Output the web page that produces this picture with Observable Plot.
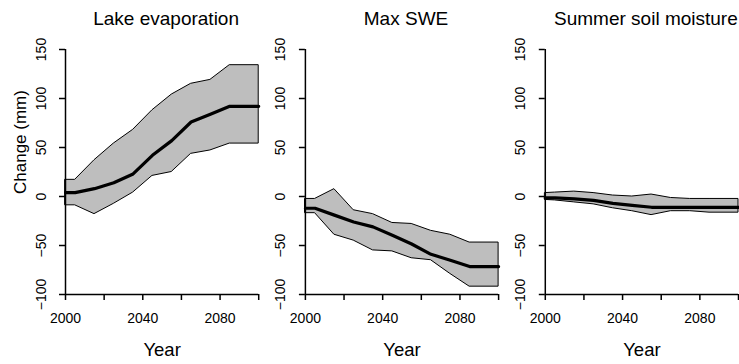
<!DOCTYPE html>
<html>
<head>
<meta charset="utf-8">
<script src="https://cdn.jsdelivr.net/npm/d3@7"></script>
<script src="https://cdn.jsdelivr.net/npm/@observablehq/plot@0.6"></script>
<style>
  html, body { margin: 0; padding: 0; background: #ffffff; }
  #chart { width: 739px; height: 364px; overflow: hidden; }
</style>
</head>
<body>
<div id="chart"></div>
<script>
// Projected change (mm) relative to 2000: ensemble median with its spread
const panels = ["Lake evaporation", "Max SWE", "Summer soil moisture"];
const years = [2000, 2005, 2015, 2025, 2035, 2045, 2055, 2065, 2075, 2085, 2100];

const evapLow  = [-9, -9, -18, -7.5, 4, 21, 25, 43.5, 47, 54, 54];
const evapMid  = [4, 4, 8, 14, 23, 42, 57, 76, 84, 92, 92];
const evapHigh = [17, 17, 37, 54, 68, 88, 104, 115, 119, 134, 134];

const sweLow  = [-17, -17, -39, -45, -55, -56, -63, -65, -79, -92, -92];
const sweMid  = [-12, -12, -19, -26, -31, -39.5, -48.5, -59, -65, -71.5, -71.5];
const sweHigh = [-2.5, -2.5, 7.5, -14, -18, -27, -28, -35, -39, -47, -47];

const soilLow  = [-3.5, -4, -6, -8, -12, -15, -19, -15, -15, -16.5, -16.5];
const soilMid  = [-1.5, -1.5, -2.5, -4, -7, -9, -11, -11, -11, -11, -11];
const soilHigh = [3.5, 4, 5, 3.5, 1, 0, 2, -1.5, -2.5, -2.5, -2.5];

const xDomain = [2000, 2100];
const yDomain = [-100, 150];
const xTicks = [2000, 2020, 2040, 2060, 2080, 2100];
const xTickLabels = [2000, 2040, 2080];
const yTicks = [-100, -50, 0, 50, 100, 150];
const xLabel = "Year";
const yLabel = "Change (mm)";

const series = [
  [panels[0], evapLow, evapMid, evapHigh],
  [panels[1], sweLow, sweMid, sweHigh],
  [panels[2], soilLow, soilMid, soilHigh]
];
const rows = series.flatMap(([panel, lo, mid, hi]) =>
  years.map((year, i) => ({panel, year, low: lo[i], mid: mid[i], high: hi[i]}))
);

const chart = Plot.plot({
  width: 739,
  height: 364,
  marginLeft: 65,
  marginRight: 1,
  marginTop: 49,
  marginBottom: 70,
  style: {
    fontFamily: "'Liberation Sans', Arial, Helvetica, sans-serif",
    color: "#000",
    background: "#fff",
    overflow: "visible"
  },
  fx: {domain: panels, paddingInner: 0.1946, paddingOuter: 0, round: false},
  x: {domain: xDomain},
  y: {domain: yDomain},
  marks: [
    // spread between low and high members
    Plot.areaY(rows, {fx: "panel", x: "year", y1: "low", y2: "high", fill: "#bebebe", stroke: "#000", strokeWidth: 1}),
    // median
    Plot.lineY(rows, {fx: "panel", x: "year", y: "mid", stroke: "#000", strokeWidth: 3.2}),
    // axis lines
    Plot.ruleX([xDomain[0]], {stroke: "#000", strokeWidth: 1.5}),
    Plot.ruleY([yDomain[0]], {stroke: "#000", strokeWidth: 1.5}),
    Plot.axisX({
      ticks: xTicks,
      tickFormat: d => xTickLabels.includes(d) ? String(d) : "",
      tickSize: 6,
      tickPadding: 13,
      strokeWidth: 1.5,
      fontSize: 14,
      label: null
    }),
    Plot.axisY({
      ticks: yTicks,
      tickSize: 6,
      tickRotate: -90,
      tickPadding: 14,
      strokeWidth: 1.5,
      fontSize: 14,
      label: null,
      facetAnchor: null
    }),
    Plot.axisFx({anchor: "top", label: null, tickSize: 0, tickPadding: 25, dx: 4, fontSize: 19}),
    Plot.text([xLabel], {frameAnchor: "bottom", dy: 61, fontSize: 18.5}),
    Plot.text([yLabel], {fx: [panels[0]], frameAnchor: "left", rotate: -90, dx: -45, dy: 22, fontSize: 17})
  ]
});

document.getElementById("chart").appendChild(chart);
</script>
</body>
</html>
